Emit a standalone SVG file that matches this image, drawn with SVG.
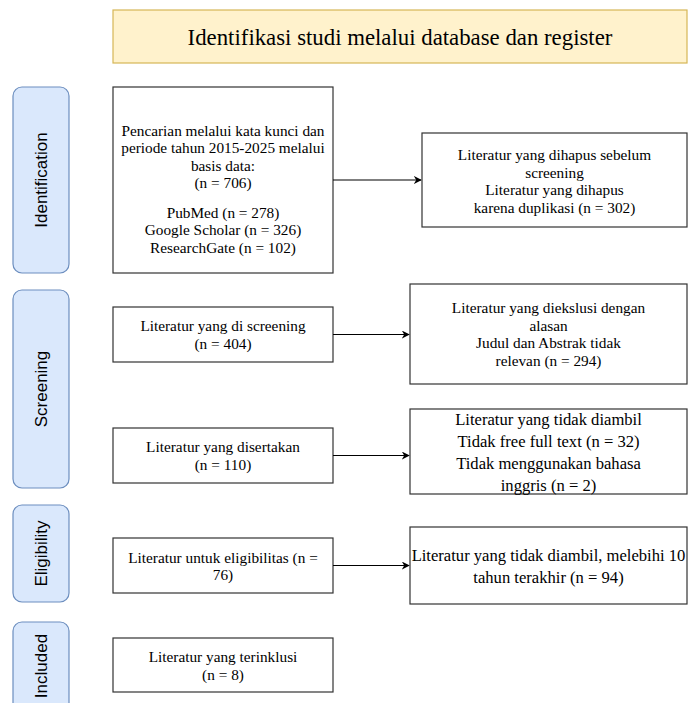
<svg xmlns="http://www.w3.org/2000/svg" width="689" height="703" viewBox="0 0 689 703">
<style>
.box{fill:#ffffff;stroke:#333333;stroke-width:1.2}
.side{fill:#dae8fc;stroke:#6c8ebf;stroke-width:1.2}
.title{fill:#fff2cc;stroke:#d6b656;stroke-width:1.2}
.t{font-family:"Liberation Serif","Times New Roman",serif;font-size:15.3px;fill:#000;text-anchor:middle;dominant-baseline:central}
.tb{font-family:"Liberation Serif","Times New Roman",serif;font-size:16.6px;fill:#000;text-anchor:middle;dominant-baseline:central}
.tt{font-family:"Liberation Serif","Times New Roman",serif;font-size:22.8px;fill:#000;text-anchor:middle;dominant-baseline:central}
.s{font-family:"Liberation Sans",Arial,sans-serif;font-size:17px;fill:#000;text-anchor:middle;dominant-baseline:central}
.c{fill:none;stroke:#000;stroke-width:1.2}
</style>
<defs>
<marker id="ah" viewBox="0 0 10 10" refX="9" refY="5" markerWidth="8" markerHeight="8" markerUnits="userSpaceOnUse" orient="auto">
<path d="M0,0 L10,5 L0,10 L3,5 z" fill="#000"/>
</marker>
</defs>
<rect width="689" height="703" fill="#ffffff"/>
<g id="title">
<rect class="title" x="113" y="10" width="574" height="53"/>
<text class="tt" x="400" y="37">Identifikasi studi melalui database dan register</text>
</g>
<g id="side-identification">
<rect class="side" x="13" y="87" width="56" height="186" rx="9"/>
<text class="s" transform="translate(41,180) rotate(-90)">Identification</text>
</g>
<g id="side-screening">
<rect class="side" x="13" y="290" width="56" height="198" rx="9"/>
<text class="s" transform="translate(41,389) rotate(-90)">Screening</text>
</g>
<g id="side-eligibility">
<rect class="side" x="13" y="505" width="56" height="97" rx="9"/>
<text class="s" transform="translate(41,553.5) rotate(-90)">Eligibility</text>
</g>
<g id="side-included">
<rect class="side" x="13" y="622" width="56" height="100" rx="9"/>
<text class="s" transform="translate(41,666) rotate(-90)">Included</text>
</g>
<g id="n-search">
<rect class="box" x="113" y="87" width="220" height="186"/>
<text class="t" x="223" y="130">Pencarian melalui kata kunci dan</text>
<text class="t" x="223" y="147.5">periode tahun 2015-2025 melalui</text>
<text class="t" x="223" y="165">basis data:</text>
<text class="t" x="223" y="182.5">(n = 706)</text>
<text class="t" x="223" y="212">PubMed (n = 278)</text>
<text class="t" x="223" y="229.5">Google Scholar (n = 326)</text>
<text class="t" x="223" y="247">ResearchGate (n = 102)</text>
</g>
<g id="n-removed">
<rect class="box" x="422" y="133" width="265" height="94"/>
<text class="t" x="554.5" y="154.5">Literatur yang dihapus sebelum</text>
<text class="t" x="554.5" y="172">screening</text>
<text class="t" x="554.5" y="189.5">Literatur yang dihapus</text>
<text class="t" x="554.5" y="207">karena duplikasi (n = 302)</text>
</g>
<g id="n-screened">
<rect class="box" x="113" y="307" width="220" height="55"/>
<text class="t" x="223" y="325.5">Literatur yang di screening</text>
<text class="t" x="223" y="343">(n = 404)</text>
</g>
<g id="n-excluded">
<rect class="box" x="410" y="284" width="277" height="100"/>
<text class="t" x="548.5" y="307.5">Literatur yang diekslusi dengan</text>
<text class="t" x="548.5" y="325">alasan</text>
<text class="t" x="548.5" y="342.5">Judul dan Abstrak tidak</text>
<text class="t" x="548.5" y="360">relevan (n = 294)</text>
</g>
<g id="n-included-lit">
<rect class="box" x="113" y="428" width="220" height="55"/>
<text class="t" x="223" y="446.5">Literatur yang disertakan</text>
<text class="t" x="223" y="464">(n = 110)</text>
</g>
<g id="n-not-retrieved">
<rect class="box" x="410" y="409" width="277" height="85"/>
<text class="tb" x="548.5" y="419">Literatur yang tidak diambil</text>
<text class="tb" x="548.5" y="441">Tidak free full text (n = 32)</text>
<text class="tb" x="548.5" y="463">Tidak menggunakan bahasa</text>
<text class="tb" x="548.5" y="485">inggris (n = 2)</text>
</g>
<g id="n-eligibility">
<rect class="box" x="113" y="538" width="220" height="55"/>
<text class="t" x="223" y="557">Literatur untuk eligibilitas (n =</text>
<text class="t" x="223" y="574.5">76)</text>
</g>
<g id="n-over10">
<rect class="box" x="410" y="527" width="277" height="77"/>
<text class="tb" x="548.5" y="555">Literatur yang tidak diambil, melebihi 10</text>
<text class="tb" x="548.5" y="577">tahun terakhir (n = 94)</text>
</g>
<g id="n-final">
<rect class="box" x="113" y="638" width="220" height="54"/>
<text class="t" x="223" y="656.5">Literatur yang terinklusi</text>
<text class="t" x="223" y="674">(n = 8)</text>
</g>
<g id="connectors">
<path class="c" d="M333,180 L421,180" marker-end="url(#ah)"/>
<path class="c" d="M333,334.5 L409,334.5" marker-end="url(#ah)"/>
<path class="c" d="M333,455.5 L409,455.5" marker-end="url(#ah)"/>
<path class="c" d="M333,565.5 L409,565.5" marker-end="url(#ah)"/>
</g>
</svg>
